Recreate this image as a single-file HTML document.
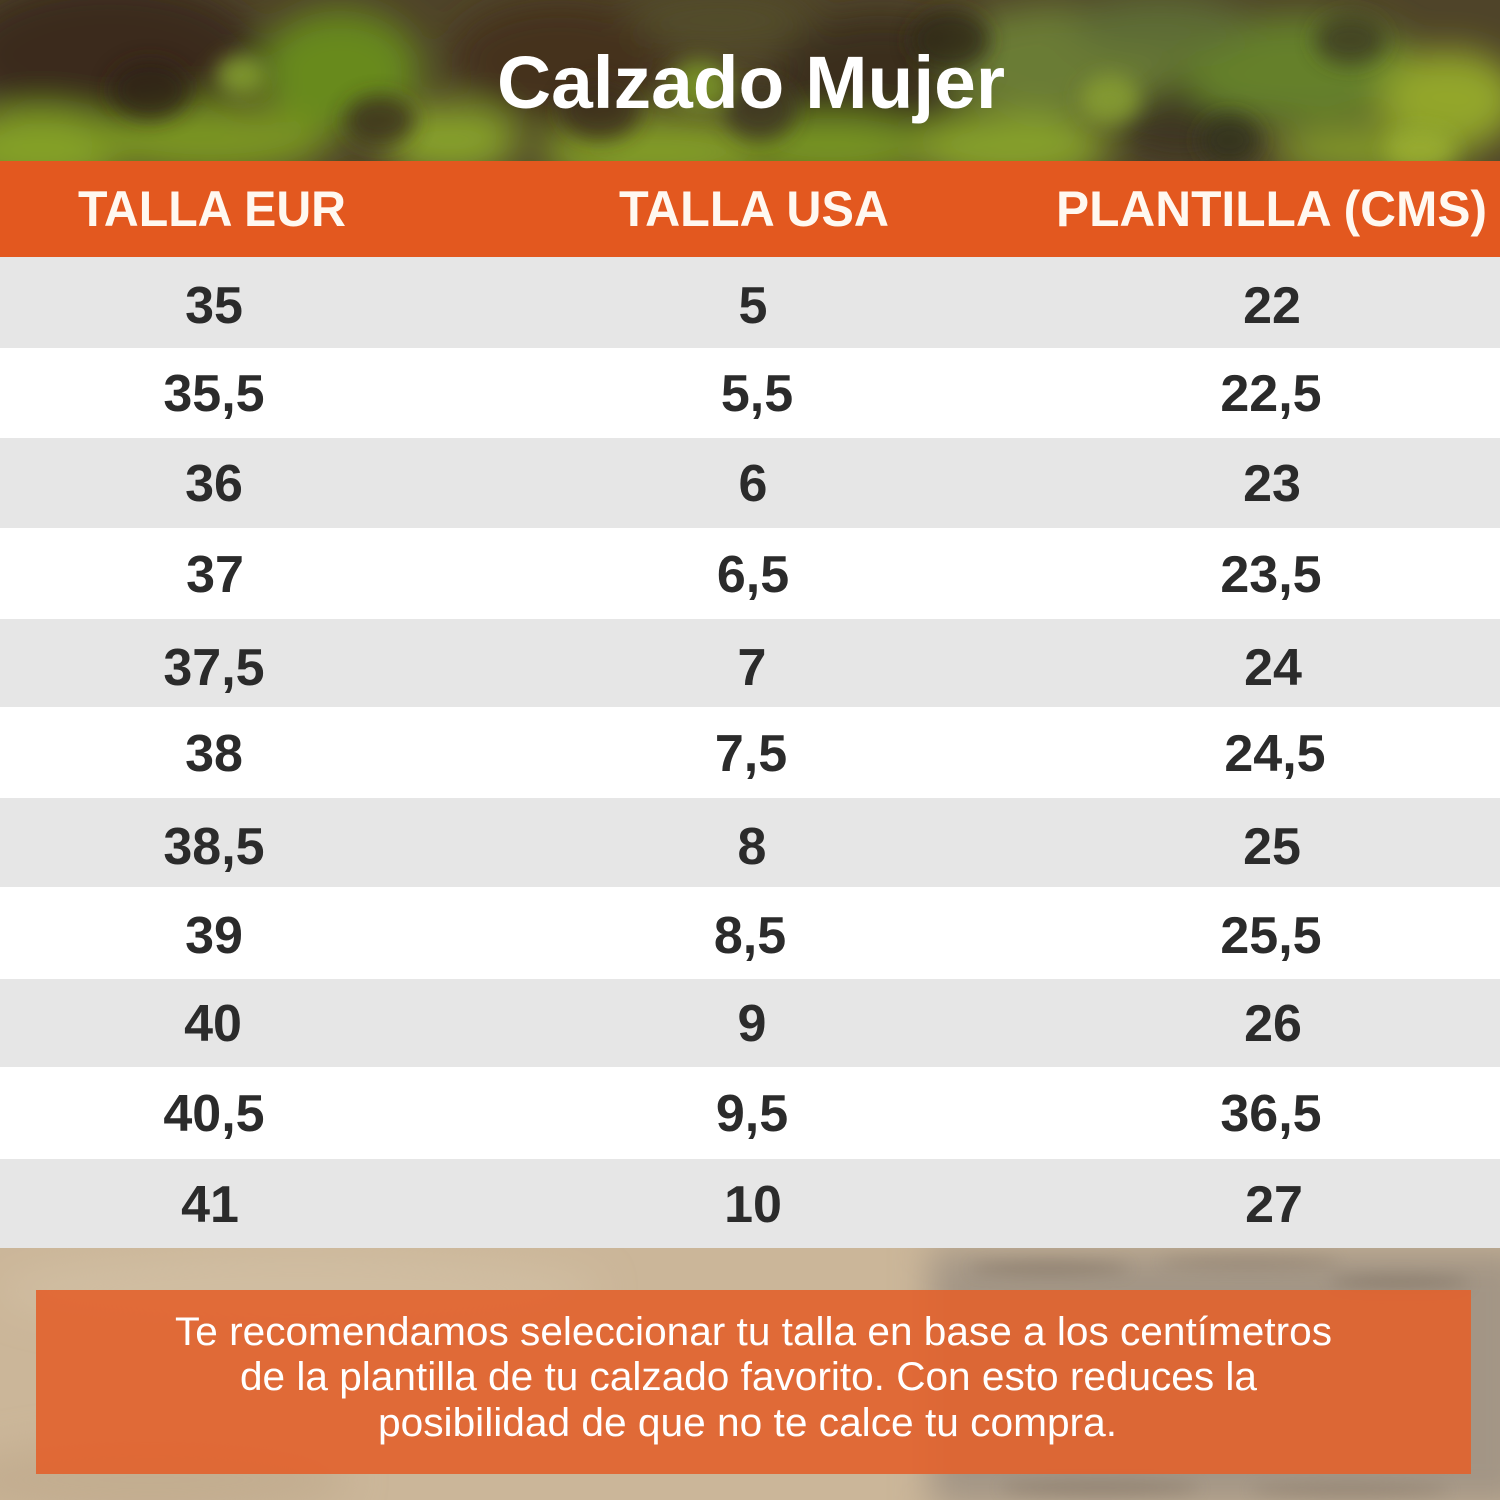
<!DOCTYPE html>
<html>
<head>
<meta charset="utf-8">
<style>
  html,body{margin:0;padding:0;background:#fff;}
  body{width:1500px;height:1500px;overflow:hidden;}
  svg{display:block;}
  text{font-family:"Liberation Sans", Arial, sans-serif;}
</style>
</head>
<body>
<svg width="1500" height="1500" viewBox="0 0 1500 1500" xmlns="http://www.w3.org/2000/svg">
  <defs>
    <filter id="blurA" x="-20%" y="-50%" width="140%" height="200%">
      <feGaussianBlur stdDeviation="18"/>
    </filter>
    <filter id="blurB" x="-20%" y="-50%" width="140%" height="200%">
      <feGaussianBlur stdDeviation="8"/>
    </filter>
    <filter id="blurC" x="-50%" y="-50%" width="200%" height="200%">
      <feGaussianBlur stdDeviation="10"/>
    </filter>
    <clipPath id="topClip"><rect x="0" y="0" width="1500" height="162"/></clipPath>
    <clipPath id="botClip"><rect x="0" y="1248" width="1500" height="252"/></clipPath>
  </defs>

  <!-- Top foliage background -->
  <rect x="0" y="0" width="1500" height="162" fill="#4f4429"/>
  <g clip-path="url(#topClip)">
    <g filter="url(#blurA)">
      <ellipse cx="110" cy="55" rx="150" ry="75" fill="#3a2a1c"/>
      <ellipse cx="560" cy="60" rx="110" ry="60" fill="#45321f"/>
      <ellipse cx="880" cy="85" rx="110" ry="70" fill="#3a2e1c"/>
      <ellipse cx="1180" cy="110" rx="70" ry="50" fill="#3d3522"/>
      <ellipse cx="40" cy="150" rx="90" ry="40" fill="#84a025"/>
      <ellipse cx="210" cy="140" rx="120" ry="35" fill="#7a9520"/>
      <ellipse cx="340" cy="70" rx="80" ry="60" fill="#688a1e"/>
      <ellipse cx="450" cy="140" rx="70" ry="35" fill="#86a02c"/>
      <ellipse cx="660" cy="152" rx="120" ry="35" fill="#829c26"/>
      <ellipse cx="830" cy="148" rx="100" ry="30" fill="#789624"/>
      <ellipse cx="1060" cy="60" rx="120" ry="55" fill="#6a7c34"/>
      <ellipse cx="1010" cy="148" rx="100" ry="35" fill="#86a02a"/>
      <ellipse cx="1300" cy="70" rx="120" ry="55" fill="#65802a"/>
      <ellipse cx="1450" cy="100" rx="70" ry="50" fill="#93a62c"/>
      <ellipse cx="1370" cy="152" rx="100" ry="25" fill="#82982c"/>
      <ellipse cx="1160" cy="25" rx="90" ry="30" fill="#5d6c34"/>
      <ellipse cx="720" cy="20" rx="90" ry="25" fill="#524e2a"/>
    </g>
    <g filter="url(#blurC)" opacity="0.8">
      <ellipse cx="150" cy="90" rx="40" ry="30" fill="#2e2216"/>
      <ellipse cx="380" cy="120" rx="35" ry="25" fill="#3a2d1c"/>
      <ellipse cx="600" cy="110" rx="40" ry="30" fill="#3b2c1c"/>
      <ellipse cx="760" cy="110" rx="35" ry="30" fill="#3e3520"/>
      <ellipse cx="950" cy="40" rx="40" ry="30" fill="#2f2618"/>
      <ellipse cx="1230" cy="140" rx="30" ry="25" fill="#33301c"/>
      <ellipse cx="1350" cy="40" rx="35" ry="25" fill="#3c3a22"/>
      <ellipse cx="240" cy="75" rx="25" ry="20" fill="#8aa830"/>
      <ellipse cx="700" cy="85" rx="30" ry="25" fill="#7e9e28"/>
      <ellipse cx="1110" cy="100" rx="30" ry="25" fill="#8aa232"/>
      <ellipse cx="1420" cy="150" rx="35" ry="20" fill="#9cb030"/>
    </g>
  </g>

  <!-- Title -->
  <text x="497" y="108" font-size="74" font-weight="bold" fill="#ffffff" textLength="508" lengthAdjust="spacingAndGlyphs">Calzado Mujer</text>

  <!-- Header bar -->
  <rect x="0" y="161" width="1500" height="96" fill="#E3581F"/>
  <text x="78" y="226" font-size="50" font-weight="bold" fill="#fff8f0" textLength="268" lengthAdjust="spacingAndGlyphs">TALLA EUR</text>
  <text x="619" y="226" font-size="50" font-weight="bold" fill="#fff8f0" textLength="270" lengthAdjust="spacingAndGlyphs">TALLA USA</text>
  <text x="1056" y="226" font-size="50" font-weight="bold" fill="#fff8f0" textLength="431" lengthAdjust="spacingAndGlyphs">PLANTILLA (CMS)</text>

  <!-- Rows -->
  <rect x="0" y="257" width="1500" height="91" fill="#E6E6E6"/>
  <rect x="0" y="348" width="1500" height="90" fill="#FFFFFF"/>
  <rect x="0" y="438" width="1500" height="90" fill="#E6E6E6"/>
  <rect x="0" y="528" width="1500" height="91" fill="#FFFFFF"/>
  <rect x="0" y="619" width="1500" height="88" fill="#E6E6E6"/>
  <rect x="0" y="707" width="1500" height="91" fill="#FFFFFF"/>
  <rect x="0" y="798" width="1500" height="89" fill="#E6E6E6"/>
  <rect x="0" y="887" width="1500" height="92" fill="#FFFFFF"/>
  <rect x="0" y="979" width="1500" height="88" fill="#E6E6E6"/>
  <rect x="0" y="1067" width="1500" height="92" fill="#FFFFFF"/>
  <rect x="0" y="1159" width="1500" height="90" fill="#E6E6E6"/>

  <g font-size="52" font-weight="bold" fill="#2b2b2b" text-anchor="middle">
    <text x="214" y="323">35</text><text x="753" y="323">5</text><text x="1272" y="323">22</text>
    <text x="214" y="411">35,5</text><text x="757" y="411">5,5</text><text x="1271" y="411">22,5</text>
    <text x="214" y="501">36</text><text x="753" y="501">6</text><text x="1272" y="501">23</text>
    <text x="215" y="592">37</text><text x="753" y="592">6,5</text><text x="1271" y="592">23,5</text>
    <text x="214" y="685">37,5</text><text x="752" y="685">7</text><text x="1273" y="685">24</text>
    <text x="214" y="771">38</text><text x="751" y="771">7,5</text><text x="1275" y="771">24,5</text>
    <text x="214" y="864">38,5</text><text x="752" y="864">8</text><text x="1272" y="864">25</text>
    <text x="214" y="953">39</text><text x="750" y="953">8,5</text><text x="1271" y="953">25,5</text>
    <text x="213" y="1041">40</text><text x="752" y="1041">9</text><text x="1273" y="1041">26</text>
    <text x="214" y="1131">40,5</text><text x="752" y="1131">9,5</text><text x="1271" y="1131">36,5</text>
    <text x="210" y="1222">41</text><text x="753" y="1222">10</text><text x="1274" y="1222">27</text>
  </g>

  <!-- Bottom sand background -->
  <rect x="0" y="1248" width="1500" height="252" fill="#cbb699"/>
  <g clip-path="url(#botClip)">
    <g filter="url(#blurA)">
      <rect x="930" y="1248" width="600" height="260" fill="#a39585"/>
      <ellipse cx="300" cy="1290" rx="300" ry="40" fill="#d0bda1"/>
      <ellipse cx="150" cy="1480" rx="200" ry="40" fill="#c3ad90"/>
    </g>
    <g filter="url(#blurB)" opacity="0.45">
      <ellipse cx="1050" cy="1268" rx="80" ry="6" fill="#6e5f50"/>
      <ellipse cx="1250" cy="1262" rx="90" ry="5" fill="#7a6a5a"/>
      <ellipse cx="1400" cy="1282" rx="70" ry="6" fill="#6a5c4e"/>
      <ellipse cx="1100" cy="1488" rx="100" ry="6" fill="#6e5f50"/>
      <ellipse cx="1350" cy="1490" rx="100" ry="6" fill="#7a6a5a"/>
    </g>
  </g>

  <!-- Orange info box -->
  <rect x="36" y="1290" width="1435" height="184" fill="#E2622C" fill-opacity="0.9"/>
  <g font-size="40" fill="#ffffff">
    <text x="175" y="1345" textLength="1157" lengthAdjust="spacingAndGlyphs">Te recomendamos seleccionar tu talla en base a los centímetros</text>
    <text x="240" y="1390" textLength="1017" lengthAdjust="spacingAndGlyphs">de la plantilla de tu calzado favorito. Con esto reduces la</text>
    <text x="378" y="1436" textLength="739" lengthAdjust="spacingAndGlyphs">posibilidad de que no te calce tu compra.</text>
  </g>
</svg>
</body>
</html>
